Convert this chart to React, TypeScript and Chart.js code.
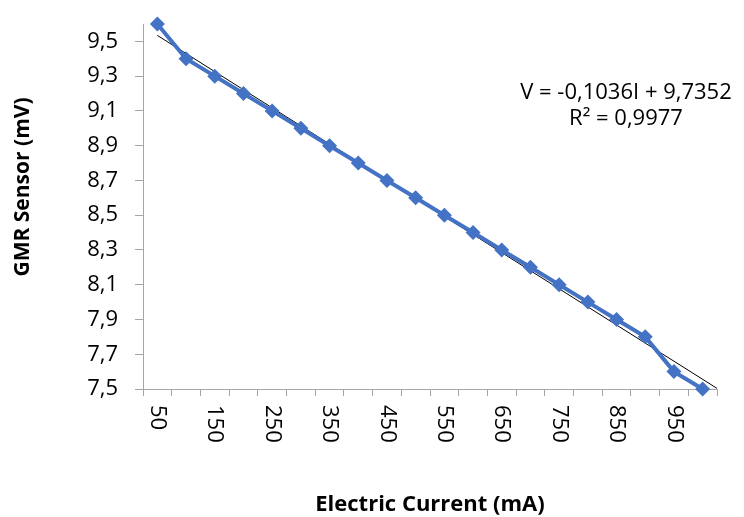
import React, { useEffect, useRef } from "react";
import { Chart, registerables } from "chart.js";

Chart.register(...registerables);

const currents = [50, 100, 150, 200, 250, 300, 350, 400, 450, 500, 550, 600, 650, 700, 750, 800, 850, 900, 950, 1000];
const voltages = [9.6, 9.4, 9.3, 9.2, 9.1, 9.0, 8.9, 8.8, 8.7, 8.6, 8.5, 8.4, 8.3, 8.2, 8.1, 8.0, 7.9, 7.8, 7.6, 7.5];
const xTickLabels = [50, 150, 250, 350, 450, 550, 650, 750, 850, 950];
const yTickValues = [7.5, 7.7, 7.9, 8.1, 8.3, 8.5, 8.7, 8.9, 9.1, 9.3, 9.5];
const equationLines = ["V = -0,1036I + 9,7352", "R² = 0,9977"];
const xTitle = "Electric Current (mA)";
const yTitle = "GMR Sensor (mV)";

const FONT = '"Open Sans", "DejaVu Sans", sans-serif';

function regression(xs: number[], ys: number[]) {
  const n = xs.length;
  const mx = xs.reduce((a, b) => a + b, 0) / n;
  const my = ys.reduce((a, b) => a + b, 0) / n;
  let sxy = 0, sxx = 0;
  for (let i = 0; i < n; i++) {
    sxy += (xs[i] - mx) * (ys[i] - my);
    sxx += (xs[i] - mx) * (xs[i] - mx);
  }
  const slope = sxy / sxx;
  return { slope, intercept: my - slope * mx };
}

export default function App() {
  const ref = useRef<HTMLCanvasElement | null>(null);

  useEffect(() => {
    document.body.style.margin = "0";
    const canvas = ref.current;
    if (!canvas) return;
    const { slope, intercept } = regression(currents, voltages);
    const xMin = 25;
    const xMax = 1025;
    const trend = [
      { x: currents[0], y: intercept + slope * currents[0] },
      { x: xMax, y: intercept + slope * xMax },
    ];

    const textPlugin = {
      id: "customText",
      afterDraw(chart: any) {
        const ctx = chart.ctx as CanvasRenderingContext2D;
        const xs = chart.scales.x;
        const area = chart.chartArea;
        ctx.save();
        ctx.fillStyle = "#000";
        ctx.font = `22px ${FONT}`;
        ctx.textAlign = "left";
        ctx.textBaseline = "middle";
        for (const v of xTickLabels) {
          const px = xs.getPixelForValue(v);
          ctx.save();
          ctx.translate(px, area.bottom + 16);
          ctx.rotate(Math.PI / 2);
          ctx.fillText(String(v), 0, 0);
          ctx.restore();
        }
        ctx.font = `bold 22px ${FONT}`;
        ctx.textAlign = "center";
        ctx.fillText(xTitle, (area.left + area.right) / 2, 505);
        ctx.font = `bold 21px ${FONT}`;
        ctx.save();
        ctx.translate(23, 187);
        ctx.rotate(-Math.PI / 2);
        ctx.fillText(yTitle, 0, 0);
        ctx.restore();
        ctx.font = `22px ${FONT}`;
        ctx.fillText(equationLines[0], 626, 93);
        ctx.fillText(equationLines[1], 626, 119);
        ctx.restore();
      },
    };

    const chart = new Chart(canvas, {
      type: "line",
      data: {
        datasets: [
          {
            label: "GMR",
            data: currents.map((c, i) => ({ x: c, y: voltages[i] })),
            borderColor: "#4472C4",
            backgroundColor: "#4472C4",
            borderWidth: 4,
            pointStyle: "rectRot",
            pointRadius: 7.5,
            pointBorderWidth: 0,
            tension: 0,
            clip: false,
          },
          {
            label: "Trend",
            data: trend,
            borderColor: "#000",
            borderWidth: 1,
            pointRadius: 0,
            tension: 0,
          },
        ],
      },
      plugins: [textPlugin],
      options: {
        responsive: false,
        animation: false,
        devicePixelRatio: 1,
        layout: { padding: { top: 24, right: 27, left: 0, bottom: 0 } },
        plugins: { legend: { display: false }, tooltip: { enabled: false } },
        scales: {
          x: {
            type: "linear",
            min: xMin,
            max: xMax,
            afterBuildTicks: (scale: any) => {
              const t = [];
              for (let v = xMin; v <= xMax; v += 50) t.push({ value: v });
              scale.ticks = t;
            },
            afterFit: (scale: any) => {
              scale.height = 128;
              scale.paddingLeft = 0;
              scale.paddingRight = 0;
            },
            ticks: { display: false },
            grid: {
              drawOnChartArea: false,
              drawTicks: true,
              tickLength: 7,
              color: "#A6A6A6",
            },
            border: { color: "#A6A6A6", width: 1 },
          },
          y: {
            type: "linear",
            min: 7.5,
            max: 9.6,
            afterBuildTicks: (scale: any) => {
              scale.ticks = yTickValues.map((v) => ({ value: v }));
            },
            afterFit: (scale: any) => {
              scale.width = 143;
              scale.paddingTop = 0;
              scale.paddingBottom = 0;
            },
            ticks: {
              color: "#000",
              font: { family: FONT, size: 22 },
              padding: 17,
              callback: (v: any) => Number(v).toFixed(1).replace(".", ","),
            },
            grid: {
              drawOnChartArea: false,
              drawTicks: true,
              tickLength: 8,
              color: "#A6A6A6",
            },
            border: { color: "#A6A6A6", width: 1 },
          },
        },
      },
    } as any);
    return () => chart.destroy();
  }, []);

  return <canvas ref={ref} width={744} height={517} style={{ display: "block" }} />;
}
